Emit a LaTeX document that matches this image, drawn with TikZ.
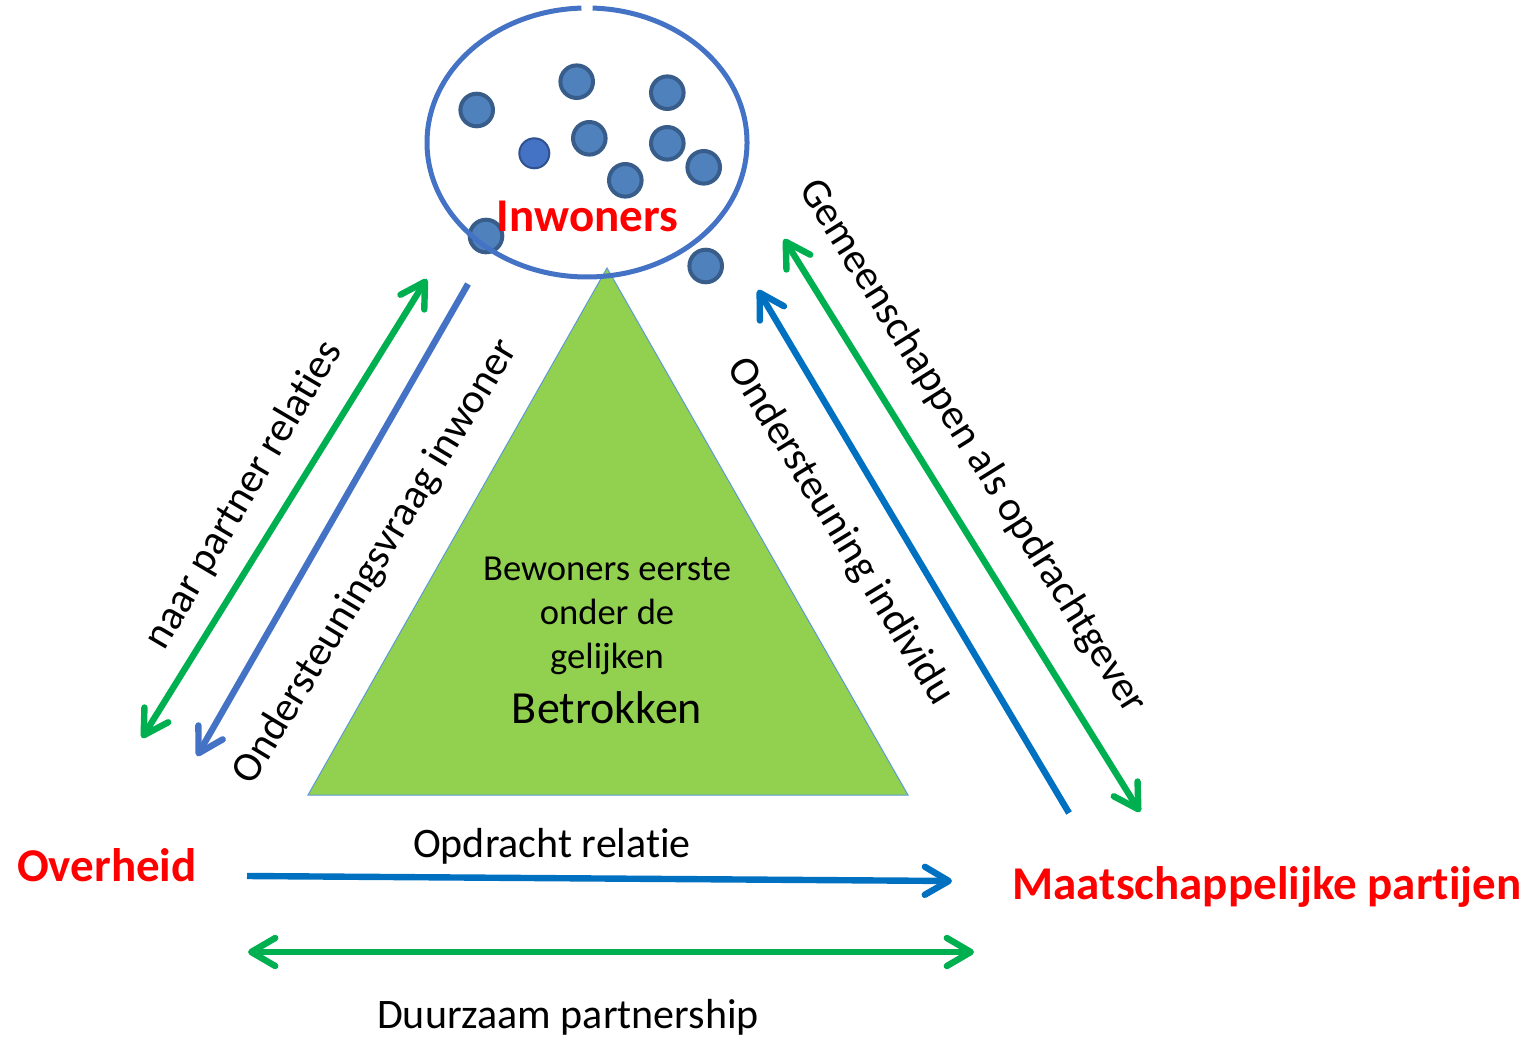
\documentclass[tikz,border=0pt]{standalone}
\usepackage{fontspec}
\setmainfont{Carlito}[Ligatures=NoCommon]
\usetikzlibrary{shapes, calc, arrows.meta, positioning}

\definecolor{ringblue}{HTML}{4472C4}
\definecolor{dotfill}{HTML}{4F81BD}
\definecolor{dotline}{HTML}{385D8A}
\definecolor{dotdark}{HTML}{2F528F}
\definecolor{trigreen}{HTML}{92D050}
\definecolor{triline}{HTML}{5B9BD5}
\definecolor{arrgreen}{HTML}{00B050}
\definecolor{arrblue}{HTML}{0070C0}

\begin{document}
\begin{tikzpicture}[x=0.5pt, y=-0.5pt,
    >={Straight Barb[length=12pt, width=14pt, round]},
    actor/.style={text=red, font=\bfseries\fontsize{23.5}{28}\selectfont, inner sep=0pt},
    side/.style={font=\fontsize{21}{25}\selectfont, inner sep=0pt},
    person/.style={circle, draw=dotline, fill=dotfill, line width=2pt, minimum size=16.3pt, inner sep=0pt},
    relation/.style={line width=3.2pt}]
    \useasboundingbox (0,0) rectangle (1534,1037);

    \draw[fill=trigreen, draw=triline, line width=0.5pt] (607,268) coordinate (apex)
      -- (908,795) coordinate (baseR) -- (308,795) coordinate (baseL) -- cycle;
    \node[font=\fontsize{18.3}{22}\selectfont, align=center, anchor=base] (first) at (607,668)
      {Bewoners eerste\\onder de\\gelijken};
    \node[font=\fontsize{23}{28}\selectfont, inner sep=0pt, anchor=base] (betrokken) at (607,723) {Betrokken};

    \foreach \px/\py [count=\i] in {476.7/110, 576.7/81.7, 667.3/92.7, 589.3/138.3, 667.3/143.3,
        703.7/167.3, 625.3/180.3, 486/236, 705.7/266}
      \node[person] (p\i) at (\px,\py) {};
    \node[person, fill=ringblue, draw=dotdark, line width=1pt, minimum size=15pt] (p0) at (534.3,153.3) {};

    \draw[ringblue, line width=2.5pt] (587,142.5) ++(-88:160 and 134.5)
      arc[start angle=-88, end angle=268, x radius=160, y radius=134.5];

    \node[actor, anchor=base] (inwoners) at (587.5,232) {Inwoners};
    \node[actor, anchor=base] (overheid) at (107,881) {Overheid};
    \node[actor, anchor=base] (partijen) at (1267,899) {Maatschappelijke partijen};

    \coordinate (gl1) at (142,738);
    \coordinate (gl2) at (426.7,279);
    \coordinate (bl1) at (468,284);
    \coordinate (bl2) at (197,756);
    \coordinate (br1) at (1069,813);
    \coordinate (br2) at (758,290);
    \coordinate (gr1) at (784,239);
    \coordinate (gr2) at (1140,812);
    \coordinate (bb1) at (247,876);
    \coordinate (bb2) at (952,881);
    \coordinate (gb1) at (248,952);
    \coordinate (gb2) at (974,952);

    \draw[relation, arrgreen, <->] (gl1) -- (gl2);
    \draw[relation, ringblue, ->] (bl1) -- (bl2);
    \draw[relation, arrblue, ->] (br1) -- (br2);
    \draw[relation, arrgreen, <->] (gr1) -- (gr2);
    \draw[relation, arrblue, ->] (bb1) -- (bb2);
    \draw[relation, arrgreen, <->] (gb1) -- (gb2);

    \node[side, rotate=59.5] (partner) at (244,495) {naar partner relaties};
    \node[side, rotate=58.8] (vraag) at (376,562) {Ondersteuningsvraag inwoner};
    \node[side, rotate=-58.5] (individu) at (840,532) {Ondersteuning individu};
    \node[side, rotate=-58] (gemeen) at (972,447) {Gemeenschappen als opdrachtgever};
    \node[side, anchor=base] (opdracht) at (552,857) {Opdracht relatie};
    \node[side, anchor=base] (duurzaam) at (568,1028) {Duurzaam partnership};
\end{tikzpicture}
\end{document}
